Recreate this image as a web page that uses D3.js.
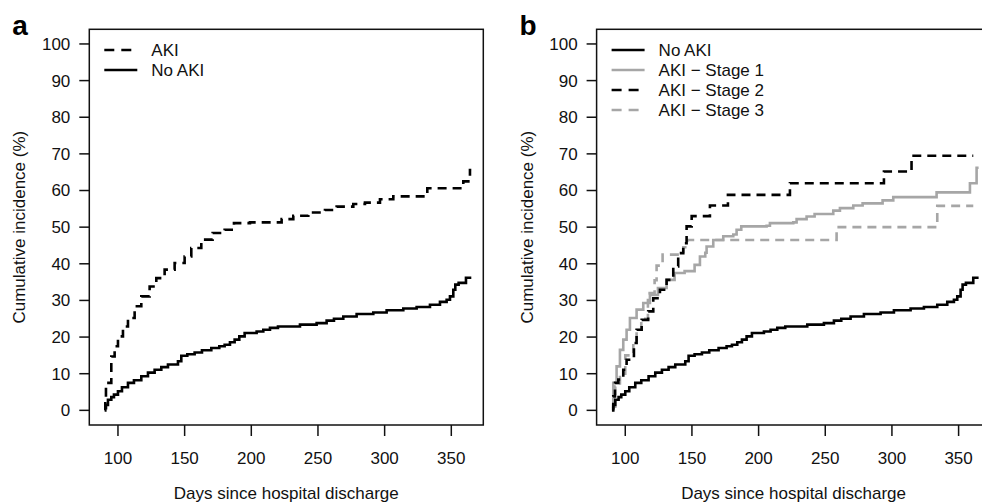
<!doctype html>
<html>
  <head>
    <meta charset="utf-8" />
    <title>Cumulative incidence after hospital discharge</title>
    <style>
      body { margin: 0; background: #fff; }
      svg { display: block; font-family: "Liberation Sans", Arial, sans-serif; }
      .tick-label, .axis-title, .legend text { font-size: 17px; fill: #111; }
      .panel-label { font-size: 28px; font-weight: bold; fill: #000; }
      .frame { fill: none; stroke: #111; stroke-width: 1.5px; }
      .tick { stroke: #111; stroke-width: 1.5px; }
      .curve { fill: none; stroke-width: 2.6px; }
    </style>
  </head>
  <body>
    <div id="chart"></div>
    <script src="https://cdn.jsdelivr.net/npm/d3@7"></script>
    <script>
      // [day, cumulative incidence %], step-after
      var noAki = [[90,0.6],[91,1.5],[92.5,2.9],[95,3.6],[97,4.3],[100,5.2],[103,6.3],[107.5,7.5],[112,8.2],
        [117.5,9.3],[122.5,10.3],[127.5,11.1],[132.5,11.8],[137.5,12.5],[145,13.4],[147.5,14.9],[152,15.3],
        [157.5,15.8],[163,16.4],[170,17],[176,17.5],[180,17.9],[184,18.6],[187.5,19.3],[191,20.2],[195,21.1],
        [204,21.5],[209,22],[214,22.5],[220,22.9],[236.5,23.4],[249,23.8],[256.5,24.5],[262,25],[269,25.6],
        [279,26.3],[291.5,26.7],[301.5,27.3],[314,27.8],[324,28.2],[334,28.8],[341.5,29.6],[346.5,30.2],
        [349,31.1],[351.5,32.9],[353,34.3],[355.5,34.8],[361,36.2],[365,36.2]];

      var aki = [[90,0],[90.5,3],[91,7.5],[95,14.7],[97.5,17.5],[100,20.2],[103.75,22.9],[107.5,25.2],
        [112.5,28.4],[117.5,31.1],[123.75,33.8],[128.75,36.1],[135,38.4],[142.5,40.2],[150,42],[155,44.3],
        [162.5,46.6],[171,48.4],[180,49.3],[187,51.1],[199,51.3],[222.75,52.2],[231.5,53.1],[242.75,54],
        [255.25,54.7],[264,55.6],[276.5,56.3],[285.25,56.7],[296.5,57.6],[306.5,58.4],[332,60.6],[359,62.5],
        [364,65.6],[365,65.6]];

      var akiStage1 = [[90,0.3],[91,7.5],[93.5,12],[96,16.5],[98.5,19.3],[101,22],[103.5,25.2],[108.5,27.5],
        [113.5,29.3],[118.5,31.5],[124.5,33.4],[131,35.6],[137,37.5],[144.5,38],[152,39.7],[156,42],[160,43],
        [161,44.7],[166,46.5],[173.5,47.5],[181,48],[183.5,49.3],[187,50.2],[206,50.4],[208.5,51.1],[226,51.3],
        [228.5,52.2],[236,52.9],[242,53.6],[256,54.5],[261,55.2],[271,55.9],[278,56.5],[293,57.3],[301,58.2],
        [333.5,59.5],[358.5,62],[363.5,66.2],[365,66.2]];

      var akiStage2 = [[90,0],[91,3.8],[92.3,7.5],[94.8,8.4],[98.5,11.1],[101,13.8],[106.5,18.4],[108.5,22],
        [112.3,24.7],[117.2,27],[121,30.6],[126,32.9],[131,35.6],[136,39.3],[139.7,42.9],[143.5,45.6],[146,50.2],
        [149.8,53],[163.5,55.9],[177,58.8],[223.5,62],[294,65.2],[314.7,69.5],[361,69.5]];

      var akiStage3 = [[90,1],[92.5,6.5],[96,10],[100,15],[106,18.5],[108.5,22],[112,25],[117,32],[122,35.5],
        [123.5,39.5],[128,42.5],[143.5,44.5],[146.5,46.5],[258.5,50],[334,55.8],[361,55.8]];

      var xTicks = [100, 150, 200, 250, 300, 350];
      var yTicks = [0, 10, 20, 30, 40, 50, 60, 70, 80, 90, 100];
      var xTitle = "Days since hospital discharge";
      var yTitle = "Cumulative incidence (%)";

      var width = 982, height = 504;
      var plotW = 394, plotTop = 29.3, plotBottom = 425;

      var svg = d3.select("#chart").append("svg")
          .attr("width", width)
          .attr("height", height);

      function drawPanel(left, label, series) {
        var x = d3.scaleLinear().domain([78.5, 374]).range([left, left + plotW]);
        var y = d3.scaleLinear().domain([-4, 104]).range([plotBottom, plotTop]);
        var g = svg.append("g");

        var line = d3.line()
            .x(function(d) { return x(d[0]); })
            .y(function(d) { return y(d[1]); })
            .curve(d3.curveStepAfter);

        g.selectAll(".curve")
          .data(series)
          .enter().append("path")
          .attr("class", "curve")
          .attr("d", function(s) { return line(s.values); })
          .style("stroke", function(s) { return s.color; })
          .style("stroke-dasharray", function(s) { return s.dashed ? "9,6" : null; });

        g.append("rect")
          .attr("class", "frame")
          .attr("x", left).attr("y", plotTop)
          .attr("width", plotW).attr("height", plotBottom - plotTop);

        // y axis
        g.selectAll(".ytick")
          .data(yTicks)
          .enter().append("line")
          .attr("class", "tick")
          .attr("x1", left - 10).attr("x2", left)
          .attr("y1", function(d) { return y(d); })
          .attr("y2", function(d) { return y(d); });
        g.selectAll(".ylab")
          .data(yTicks)
          .enter().append("text")
          .attr("class", "tick-label")
          .attr("x", left - 19)
          .attr("y", function(d) { return y(d); })
          .attr("dy", "0.35em")
          .style("text-anchor", "end")
          .text(function(d) { return d; });

        // x axis
        g.selectAll(".xtick")
          .data(xTicks)
          .enter().append("line")
          .attr("class", "tick")
          .attr("x1", function(d) { return x(d); })
          .attr("x2", function(d) { return x(d); })
          .attr("y1", plotBottom).attr("y2", plotBottom + 11);
        g.selectAll(".xlab")
          .data(xTicks)
          .enter().append("text")
          .attr("class", "tick-label")
          .attr("x", function(d) { return x(d); })
          .attr("y", plotBottom + 39)
          .style("text-anchor", "middle")
          .text(function(d) { return d; });

        g.append("text")
          .attr("class", "axis-title")
          .attr("x", left + plotW / 2)
          .attr("y", 499)
          .style("text-anchor", "middle")
          .text(xTitle);

        g.append("text")
          .attr("class", "axis-title")
          .attr("transform", "translate(" + (left - 64) + "," + ((plotTop + plotBottom) / 2) + ") rotate(-90)")
          .style("text-anchor", "middle")
          .text(yTitle);

        g.append("text")
          .attr("class", "panel-label")
          .attr("x", left - 77)
          .attr("y", 35)
          .text(label);

        // legend
        var leg = g.append("g").attr("class", "legend")
            .selectAll("g")
            .data(series.slice().sort(function(a, b) { return a.order - b.order; }))
            .enter().append("g")
            .attr("transform", function(s, i) { return "translate(" + left + "," + (50 + i * 20) + ")"; });
        leg.append("line")
          .attr("x1", 15)
          .attr("x2", function(s) { return s.dashed ? 42 : 48; })
          .style("stroke", function(s) { return s.color; })
          .style("stroke-width", "2.6px")
          .style("stroke-dasharray", function(s) { return s.dashed ? "10,7" : null; });
        leg.append("text")
          .attr("x", 62)
          .attr("dy", "0.35em")
          .text(function(s) { return s.name; });
      }

      var gray = "#a6a6a6";

      drawPanel(89.3, "a", [
        {name: "No AKI", values: noAki, color: "#000", dashed: false, order: 1},
        {name: "AKI", values: aki, color: "#000", dashed: true, order: 0}
      ]);

      drawPanel(596.6, "b", [
        {name: "AKI \u2212 Stage 3", values: akiStage3, color: gray, dashed: true, order: 3},
        {name: "AKI \u2212 Stage 1", values: akiStage1, color: gray, dashed: false, order: 1},
        {name: "AKI \u2212 Stage 2", values: akiStage2, color: "#000", dashed: true, order: 2},
        {name: "No AKI", values: noAki, color: "#000", dashed: false, order: 0}
      ]);
    </script>
  </body>
</html>
